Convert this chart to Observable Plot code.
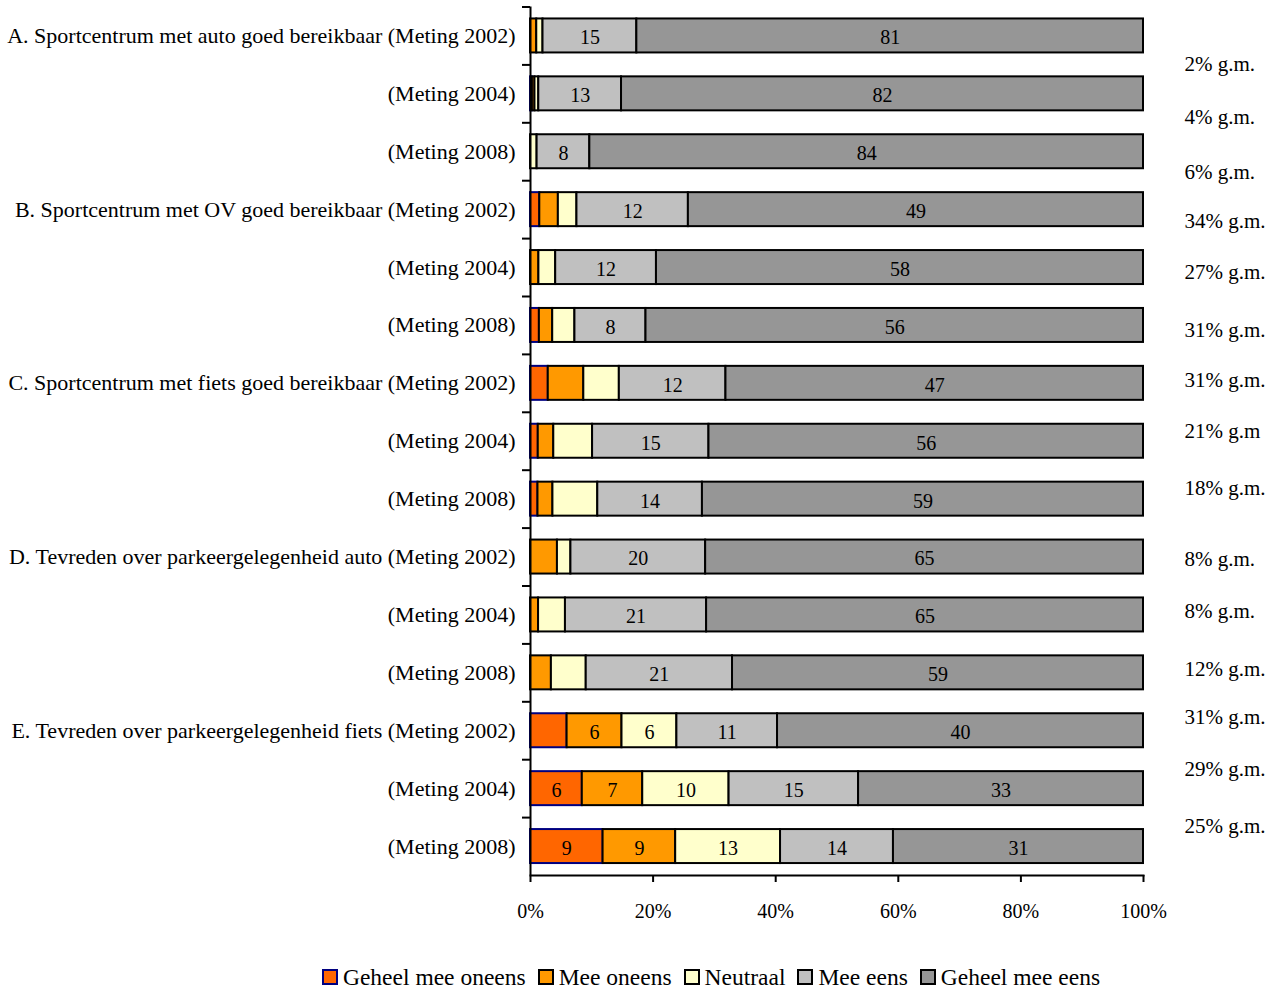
<!DOCTYPE html>
<html>
<head>
<meta charset="utf-8">
<script src="https://cdn.jsdelivr.net/npm/d3@7"></script>
<script src="https://cdn.jsdelivr.net/npm/@observablehq/plot@0.6"></script>
<style>
  body { margin: 0; background: #fff; font-family: "Liberation Serif", serif; }
  #chart { width: 1278px; }
  .legend { display: flex; justify-content: center; align-items: center; font-size: 23.5px; margin-top: 24px; padding-left: 144px; line-height: 26px; }
  .legend .item { display: flex; align-items: center; margin: 0 6px; }
  .legend .sw { width: 12px; height: 12px; border: 2px solid #000; margin-right: 5px; }
</style>
</head>
<body>
<div id="chart"></div>
<script>
// Survey statements, each measured in 2002, 2004 and 2008
const statements = [
  "A. Sportcentrum met auto goed bereikbaar",
  "B. Sportcentrum met OV goed bereikbaar",
  "C. Sportcentrum met fiets goed bereikbaar",
  "D. Tevreden over parkeergelegenheid auto",
  "E. Tevreden over parkeergelegenheid fiets"
];
const years = ["2002", "2004", "2008"];

// Answer categories, in stacking order
const categories = ["Geheel mee oneens", "Mee oneens", "Neutraal", "Mee eens", "Geheel mee eens"];

// Percentages per row (A2002, A2004, A2008, B2002, ... E2008)
const geheelMeeOneens = [0, 0.3, 0, 1, 0, 1, 2, 1, 1, 0, 0, 0, 4, 6, 9];
const meeOneens       = [1, 0.4, 0, 2, 1, 1.5, 4, 2, 2, 4, 1.2, 3, 6, 7, 9];
const neutraal        = [1, 0.6, 1, 2, 2, 2.5, 4, 5, 6, 2, 4, 5, 6, 10, 13];
const meeEens         = [15, 13, 8, 12, 12, 8, 12, 15, 14, 20, 21, 21, 11, 15, 14];
const geheelMeeEens   = [81, 82, 84, 49, 58, 56, 47, 56, 59, 65, 65, 59, 40, 33, 31];

// "Geen mening" (no opinion) share per row, shown beside the bars
const geenMening = ["2% g.m.", "4% g.m.", "6% g.m.", "34% g.m.", "27% g.m.", "31% g.m.",
  "31% g.m.", "21% g.m", "18% g.m.", "8% g.m.", "8% g.m.", "12% g.m.", "31% g.m.", "29% g.m.", "25% g.m."];

// Percentage ticks of the x axis
const xTicks = [0, 0.2, 0.4, 0.6, 0.8, 1];

// Segments that carry a value label, per row
const agree = ["Mee eens", "Geheel mee eens"];
const labelled = [
  agree, agree, agree, agree, agree, agree, agree, agree, agree, agree, agree, agree,
  ["Mee oneens", "Neutraal", "Mee eens", "Geheel mee eens"],
  categories, categories
];

// ---- styling ----
const fillOf = {
  "Geheel mee oneens": "#FF6600", "Mee oneens": "#FF9900", "Neutraal": "#FFFFCC",
  "Mee eens": "#C0C0C0", "Geheel mee eens": "#969696"
};
const strokeOf = {
  "Geheel mee oneens": "#000080", "Mee oneens": "#000", "Neutraal": "#000",
  "Mee eens": "#000", "Geheel mee eens": "#000"
};
const serif = "'Liberation Serif', serif";

// Row ids and their axis labels
const rows = [];
const rowLabel = {};
statements.forEach((s, si) => years.forEach((yr, yi) => {
  const id = `${si}-${yr}`;
  rows.push(id);
  rowLabel[id] = (yi === 0 ? s + " " : "") + `(Meting ${yr})`;
}));

const series = [geheelMeeOneens, meeOneens, neutraal, meeEens, geheelMeeEens];
const table = [];
rows.forEach((id, i) => categories.forEach((cat, k) => {
  const value = series[k][i];
  if (value > 0) table.push({row: id, cat, value, show: labelled[i].includes(cat)});
}));

// Layout of the band scale: frame from top to the x axis, 15 equal slots
const frameTop = 6.5, frameBottom = 875;
const step = (frameBottom - frameTop) / rows.length;
const pad = 0.413;
// vertical nudges of the "g.m." notes relative to their rows
const gmShift = [28, 23, 21, 12, 5, 5, -3, -10, -11, 2, -4, -4, -13, -19, -20];

const stackOpts = {x: "value", y: "row", z: "cat", offset: "normalize"};

const plot = Plot.plot({
  width: 1278,
  height: 940,
  marginLeft: 530,
  marginRight: 135,
  marginTop: frameTop,
  marginBottom: 940 - frameBottom,
  style: {fontFamily: serif, fontSize: "20px", color: "#000", background: "#fff", overflow: "visible"},
  x: {domain: [0, 1], label: null},
  y: {domain: rows, paddingInner: pad, paddingOuter: pad / 2, round: false, label: null},
  color: {type: "identity"},
  marks: [
    Plot.barX(table, Plot.stackX({
      ...stackOpts,
      fill: d => fillOf[d.cat],
      stroke: d => strokeOf[d.cat],
      strokeWidth: 2
    })),
    Plot.text(table, Plot.stackX({
      ...stackOpts,
      text: d => d.show ? d.value : null,
      fontSize: 20,
      fill: "#000",
      dy: 2
    })),
    Plot.axisX({ticks: xTicks, tickFormat: d3.format(".0%"), label: null,
      tickSize: 7, tickPadding: 21, fontSize: 20, fontFamily: serif, strokeWidth: 2}),
    Plot.axisY({tickSize: 0, tickPadding: 15, fontSize: 22, fontFamily: serif, label: null,
      tickFormat: id => rowLabel[id]}),
    // small ticks between the rows
    Plot.axisY({tickSize: 8, tickFormat: () => "", label: null, dy: -step / 2, strokeWidth: 2}),
    Plot.ruleX([0], {strokeWidth: 2}),
    Plot.frame({anchor: "bottom", strokeWidth: 2}),
    ...rows.map((id, i) => Plot.text([id], {
      y: d => d,
      text: () => geenMening[i],
      frameAnchor: "right",
      textAnchor: "start",
      dx: 41,
      dy: gmShift[i],
      fontSize: 21,
      fill: "#000"
    }))
  ]
});

const chart = document.getElementById("chart");
chart.appendChild(plot);

// Legend below the chart
const legend = document.createElement("div");
legend.className = "legend";
categories.forEach(cat => {
  const item = document.createElement("div");
  item.className = "item";
  const sw = document.createElement("span");
  sw.className = "sw";
  sw.style.background = fillOf[cat];
  sw.style.borderColor = strokeOf[cat];
  const label = document.createElement("span");
  label.textContent = cat;
  item.append(sw, label);
  legend.appendChild(item);
});
chart.appendChild(legend);
</script>
</body>
</html>
